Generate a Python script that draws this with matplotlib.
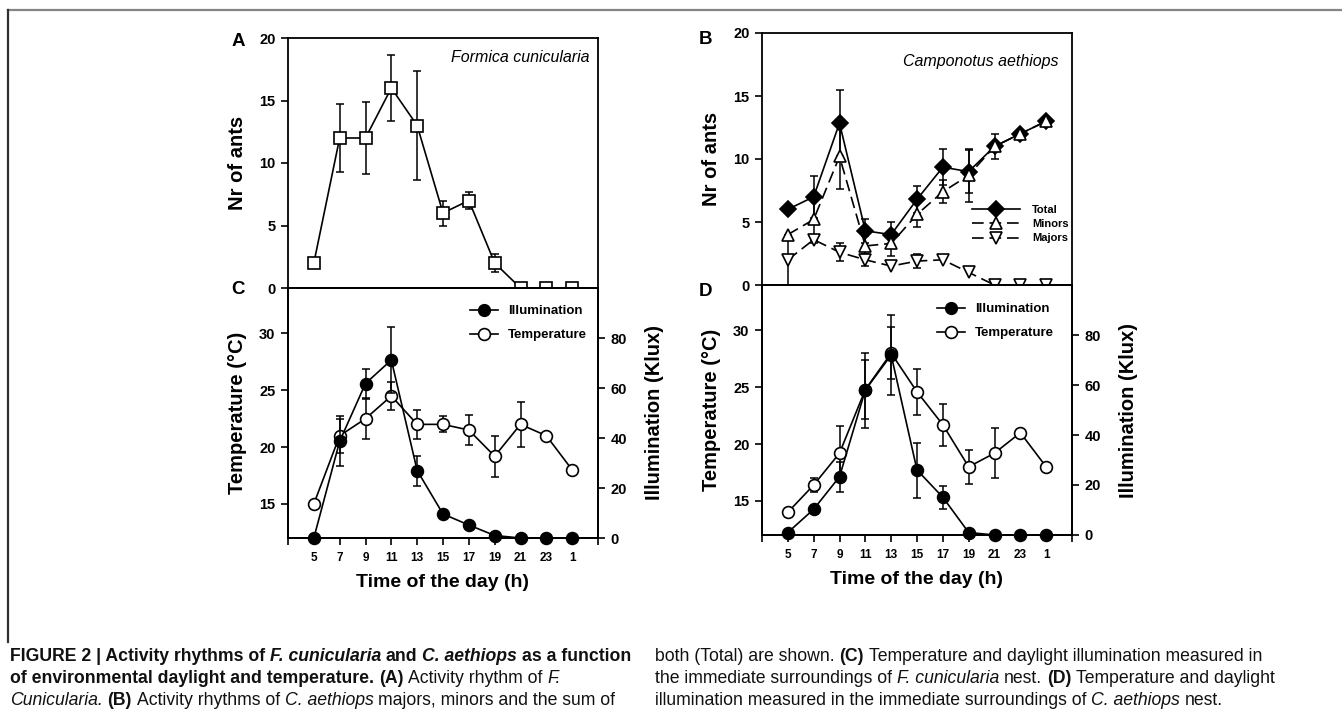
import numpy as np
import matplotlib
matplotlib.use('Agg')
import matplotlib.pyplot as plt
from matplotlib.lines import Line2D
from matplotlib.text import Annotation

plt.rcParams['font.family'] = ['Liberation Sans', 'DejaVu Sans']
plt.rcParams['font.weight'] = 'bold'
plt.rcParams['axes.labelweight'] = 'bold'

''' ==== data ==== '''
hours = ['5', '7', '9', '11', '13', '15', '17', '19', '21', '23', '1']

# (A) Formica cunicularia, nr of ants
fc_ants = [2, 12, 12, 16, 13, 6, 7, 2, 0, 0, 0]
fc_ants_err = [0, 2.7, 2.85, 2.6, 4.35, 1.0, 0.7, 0.7, 0, 0, 0]

# (B) Camponotus aethiops, nr of ants
ca_total = [6.0, 7.0, 12.85, 4.3, 4.0, 6.8, 9.35, 9.0, 11.0, 12.0, 13.0]
ca_total_err = [0, 1.65, 2.65, 0.95, 1.0, 1.05, 1.45, 1.7, 1.0, 0, 0]
ca_minors = [4.0, 5.2, 10.2, 3.1, 3.3, 5.6, 7.4, 8.7, 11.0, 12.0, 13.0]
ca_minors_err = [0, 1.7, 2.6, 0.8, 1.0, 1.0, 0.9, 2.1, 0, 0, 0]
ca_majors = [2.0, 3.6, 2.6, 2.0, 1.5, 1.9, 2.0, 1.0, 0, 0, 0]
ca_majors_err = [2.0, 0.3, 0.7, 0.5, 0, 0.55, 0, 0, 0, 0, 0]

# (C) surroundings of F. cunicularia nest
fc_temp = [15.0, 21.0, 22.5, 24.5, 22.0, 22.0, 21.5, 19.2, 22.0, 21.0, 18.0]
fc_temp_err = [0, 1.5, 1.8, 1.2, 1.3, 0.7, 1.3, 1.8, 2.0, 0, 0]
fc_illum = [0, 38.7, 61.8, 71.2, 27.0, 9.6, 5.2, 1.0, 0, 0, 0]
fc_illum_err = [0, 10, 6, 13, 6, 0, 0, 0, 0, 0, 0]

# (D) surroundings of C. aethiops nest
ca_temp = [14.0, 16.4, 19.2, 24.8, 28.0, 24.6, 21.7, 18.0, 19.2, 21.0, 18.0]
ca_temp_err = [0, 0.65, 2.4, 2.6, 2.3, 2.05, 1.85, 1.5, 2.2, 0, 0]
ca_illum = [1.0, 10.3, 23.3, 58.0, 72.0, 26.0, 15.1, 1.0, 0, 0, 0]
ca_illum_err = [0, 0, 6.1, 15, 16, 11, 4.7, 0, 0, 0, 0]

W, H = 1342, 709
fig = plt.figure(figsize=(W / 100, H / 100), dpi=100)
x = np.arange(len(hours))


def px_axes(l, t, r, b):
    return fig.add_axes([l / W, 1 - b / H, (r - l) / W, (b - t) / H])


def style(ax, xlabels=False):
    for s in ax.spines.values():
        s.set_linewidth(1.3)
    ax.set_xlim(-1, len(hours))
    ax.set_xticks(np.arange(-1, len(hours) + 1))
    if xlabels:
        ax.set_xticklabels([''] + hours + [''])
    ax.tick_params(axis='x', direction='out', length=5, width=1.2, labelsize=8.5, pad=5,
                   labelbottom=xlabels)
    ax.tick_params(axis='y', direction='out', length=5, width=1.2, labelsize=10.5, pad=4)


def err(ax, y, e, z=2):
    y = np.asarray(y, float)
    e = np.asarray(e, float)
    m = e > 0
    ax.errorbar(x[m], y[m], yerr=e[m], fmt='none', ecolor='black', elinewidth=1.1,
                capsize=3.2, capthick=1.1, zorder=z)


mk = dict(mec='black', mew=1.2, color='black', lw=1.2, clip_on=False)

#------ (A)
ax_a = px_axes(288, 38, 598, 288)
style(ax_a)
ax_a.set_ylim(0, 20)
ax_a.set_yticks([0, 5, 10, 15, 20])
err(ax_a, fc_ants, fc_ants_err)
ax_a.plot(x, fc_ants, marker='s', ms=9, mfc='white', zorder=3, **mk)
ax_a.set_ylabel('Nr of ants', fontsize=14.5, labelpad=9)
ax_a.text(0.974, 0.924, 'Formica cunicularia', transform=ax_a.transAxes, ha='right', va='center',
          fontsize=11.5, fontstyle='italic', fontweight='normal')

#------ (B)
ax_b = px_axes(762, 33, 1072, 285)
style(ax_b)
ax_b.set_ylim(0, 20)
ax_b.set_yticks([0, 5, 10, 15, 20])
err(ax_b, ca_total, ca_total_err)
err(ax_b, ca_minors, ca_minors_err)
err(ax_b, ca_majors, ca_majors_err)
ax_b.plot(x, ca_total, marker='D', ms=8, mfc='black', zorder=3, label='Total', **mk)
ax_b.plot(x, ca_minors, marker='^', ms=8.5, mfc='white', dashes=(7, 3.5), zorder=4,
          label='Minors', **mk)
ax_b.plot(x, ca_majors, marker='v', ms=8.5, mfc='white', dashes=(7, 3.5), zorder=4,
          label='Majors', **mk)
ax_b.set_ylabel('Nr of ants', fontsize=14.5, labelpad=9)
ax_b.text(0.955, 0.885, 'Camponotus aethiops', transform=ax_b.transAxes, ha='right', va='center',
          fontsize=11.5, fontstyle='italic', fontweight='normal')
ax_b.legend(loc='upper left', bbox_to_anchor=(972 / W, 1 - 205 / H), bbox_transform=fig.transFigure,
            frameon=False, fontsize=8, borderpad=0, borderaxespad=0, handlelength=4.3,
            handletextpad=1.1, labelspacing=0.38, numpoints=1)


#------ (C) and (D)
def env_panel(l, t, r, b, temp, temp_err, illum, illum_err, leg_x, leg_y):
    ax = px_axes(l, t, r, b)
    style(ax, xlabels=True)
    ax.set_ylim(12, 34)
    ax.set_yticks([15, 20, 25, 30])
    ax2 = ax.twinx()
    ax2.set_xlim(-1, len(hours))
    ax2.set_ylim(0, 100)
    ax2.set_yticks([0, 20, 40, 60, 80])
    ax2.tick_params(axis='y', direction='out', length=5, width=1.2, labelsize=10.5, pad=4)
    for s in ax2.spines.values():
        s.set_linewidth(1.3)
    err(ax, temp, temp_err)
    ax.plot(x, temp, marker='o', ms=8.5, mfc='white', zorder=3, **mk)
    err(ax2, illum, illum_err)
    ax2.plot(x, illum, marker='o', ms=8.5, mfc='black', zorder=3, **mk)
    ax.set_ylabel('Temperature (\u00b0C)', fontsize=14.5, labelpad=9)
    ax2.set_ylabel('Illumination (Klux)', fontsize=14.5, labelpad=13)
    ax.set_xlabel('Time of the day (h)', fontsize=14, labelpad=7)
    handles = [Line2D([], [], marker='o', ms=8.5, mfc='black', mec='black', color='black', lw=1.2),
               Line2D([], [], marker='o', ms=8.5, mfc='white', mec='black', mew=1.2,
                      color='black', lw=1.2)]
    ax2.legend(handles, ['Illumination', 'Temperature'], loc='upper left',
               bbox_to_anchor=(leg_x / W, 1 - leg_y / H), bbox_transform=fig.transFigure,
               frameon=False, fontsize=9.5, borderpad=0, borderaxespad=0, handlelength=2.1,
               handletextpad=0.8, labelspacing=0.9, numpoints=1)
    return ax, ax2


env_panel(288, 288, 598, 538, fc_temp, fc_temp_err, fc_illum, fc_illum_err, 470, 305)
env_panel(762, 285, 1072, 535, ca_temp, ca_temp_err, ca_illum, ca_illum_err, 937, 303)

# panel letters
for lab, px, py in [('A', 238, 42), ('B', 706, 40), ('C', 238, 289), ('D', 706, 291)]:
    fig.text(px / W, 1 - py / H, lab, ha='center', va='center', fontsize=13.5, fontweight='bold')

# frame lines
fig.add_artist(Line2D([8 / W, 1], [1 - 10 / H, 1 - 10 / H], transform=fig.transFigure,
                      color='#858585', lw=1.6))
fig.add_artist(Line2D([8 / W, 8 / W], [1 - 10 / H, 1 - 642 / H], transform=fig.transFigure,
                      color='#303030', lw=1.6))

#------ caption
cap_font = ['Liberation Sans Narrow', 'Liberation Sans', 'DejaVu Sans']
cap_size = 12.7


def rich_line(x0, y0, segs):
    prev = None
    for i, (txt, st) in enumerate(segs):
        gap = txt.startswith(' ') or (i > 0 and segs[i - 1][0].endswith(' '))
        kw = dict(fontsize=cap_size, family=cap_font, ha='left', va='bottom',
                  fontweight='bold' if 'b' in st else 'normal',
                  fontstyle='italic' if 'i' in st else 'normal', color='#111111')
        if prev is None:
            prev = fig.text(x0 / W, 1 - y0 / H, txt.strip(), **kw)
        else:
            a = Annotation(txt.strip(), xy=(1, 0), xycoords=prev,
                           xytext=(cap_size * 0.27 if gap else 0, 0), textcoords='offset points', **kw)
            fig.add_artist(a)
            prev = a


cap_left = [
    [('FIGURE 2 | Activity rhythms of ', 'b'), ('F. cunicularia', 'bi'), (' and ', 'b'),
     ('C. aethiops', 'bi'), (' as a function', 'b')],
    [('of environmental daylight and temperature.', 'b'), (' (A)', 'b'),
     (' Activity rhythm of ', 'n'), ('F.', 'i')],
    [('Cunicularia.', 'i'), (' (B)', 'b'), (' Activity rhythms of ', 'n'), ('C. aethiops', 'i'),
     (' majors, minors and the sum of', 'n')],
]
cap_right = [
    [('both (Total) are shown.', 'n'), (' (C)', 'b'),
     (' Temperature and daylight illumination measured in', 'n')],
    [('the immediate surroundings of ', 'n'), ('F. cunicularia', 'i'), (' nest.', 'n'), (' (D)', 'b'),
     (' Temperature and daylight', 'n')],
    [('illumination measured in the immediate surroundings of ', 'n'), ('C. aethiops', 'i'),
     (' nest.', 'n')],
]
for k, segs in enumerate(cap_left):
    rich_line(10, 665 + 22 * k, segs)
for k, segs in enumerate(cap_right):
    rich_line(655, 665 + 22 * k, segs)

plt.savefig('out.png', dpi=100)
plt.close()
